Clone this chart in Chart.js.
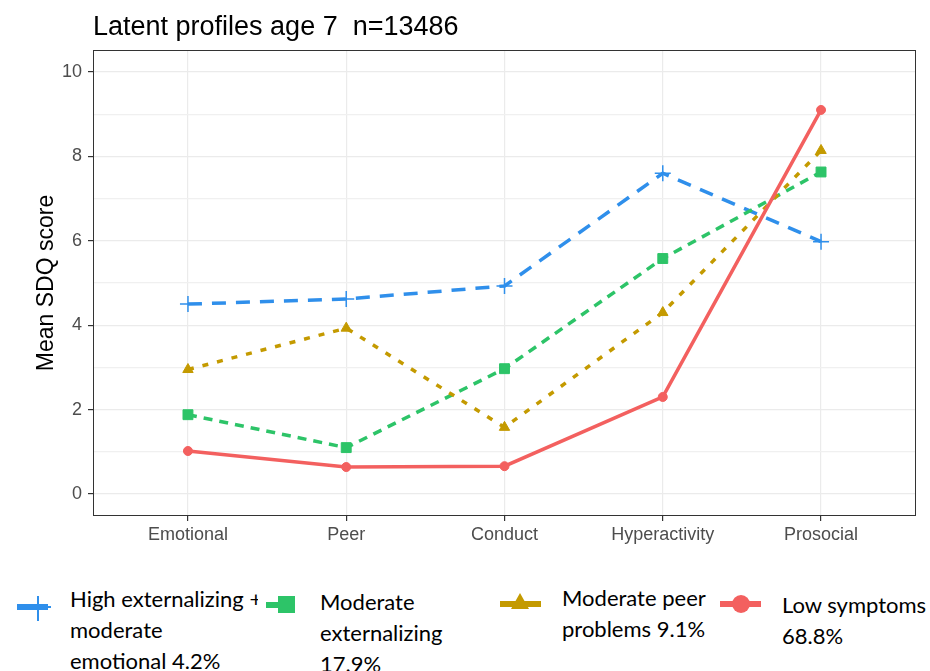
<!DOCTYPE html>
<html>
<head>
<meta charset="utf-8">
<script src="https://cdn.jsdelivr.net/npm/chart.js@4/dist/chart.umd.min.js"></script>
<style>
  body { margin: 0; background: #fff; width: 930px; height: 671px; overflow: hidden; position: relative; }
  #wrap { position: absolute; left: 0; top: 0; width: 930px; height: 560px; }
  #title { position: absolute; left: 93px; top: 11px; font: 27px "Liberation Sans", Arial, sans-serif; color: #000; }
  .leg { position: absolute; font: 22px Lato, "Liberation Sans", sans-serif; line-height: 31px; color: #000; }
  .bar { position: absolute; }
</style>
</head>
<body>
<div id="wrap"><canvas id="chart" width="930" height="560"></canvas></div>
<div id="title">Latent profiles age 7&nbsp; n=13486</div>
<div id="legend"></div>
<script>
// data
var categories = ['Emotional', 'Peer', 'Conduct', 'Hyperactivity', 'Prosocial'];
var highExt  = [4.50, 4.62, 4.93, 7.60, 5.98];
var modExt   = [1.88, 1.10, 2.97, 5.58, 7.63];
var modPeer  = [2.95, 3.93, 1.58, 4.30, 8.14];
var lowSymp  = [1.02, 0.64, 0.66, 2.30, 9.10];
var yTicks = [0, 2, 4, 6, 8, 10];

var seriesNames = [
  ['High externalizing +', 'moderate', 'emotional 4.2%'],
  ['Moderate', 'externalizing', '17.9%'],
  ['Moderate peer', 'problems 9.1%'],
  ['Low symptoms', '68.8%']
];
var colors = ['#2F8FEB', '#2DC468', '#C49A00', '#F3605F'];

function pts(arr) {
  return arr.map(function(v, i) { return { x: i, y: v }; });
}

var panelBorder = {
  id: 'panelBorder',
  afterDraw: function(chart) {
    var a = chart.chartArea, c = chart.ctx;
    c.save();
    c.strokeStyle = '#333';
    c.lineWidth = 1;
    c.strokeRect(a.left + 0.5, a.top + 0.5, a.right - a.left - 1, a.bottom - a.top - 1);
    c.restore();
  }
};

var tickFont = { family: '"Liberation Sans", Arial, sans-serif', size: 18 };

var ctx = document.getElementById('chart').getContext('2d');
var chart = new Chart(ctx, {
  type: 'line',
  data: {
    datasets: [
      { label: seriesNames[0].join(' '), data: pts(highExt), borderColor: colors[0], backgroundColor: colors[0],
        borderDash: [14, 10], borderWidth: 3.5, pointStyle: 'cross', pointRadius: 8, pointBorderWidth: 1.5, order: 4 },
      { label: seriesNames[1].join(' '), data: pts(modExt), borderColor: colors[1], backgroundColor: colors[1],
        borderDash: [9, 7], borderWidth: 3.5, pointStyle: 'rect', pointRadius: 7, pointBorderWidth: 1, order: 3 },
      { label: seriesNames[2].join(' '), data: pts(modPeer), borderColor: colors[2], backgroundColor: colors[2],
        borderDash: [6, 9], borderWidth: 3.5, pointStyle: 'triangle', pointRadius: 6, pointBorderWidth: 1, order: 2 },
      { label: seriesNames[3].join(' '), data: pts(lowSymp), borderColor: colors[3], backgroundColor: colors[3],
        borderWidth: 3.5, pointStyle: 'circle', pointRadius: 4.5, pointBorderWidth: 1, order: 1 }
    ]
  },
  options: {
    responsive: false,
    animation: false,
    layout: { padding: { left: 0, top: 50, right: 14, bottom: 0 } },
    plugins: { legend: { display: false }, tooltip: { enabled: false } },
    scales: {
      x: {
        type: 'linear',
        min: -0.6, max: 4.6,
        afterFit: function(s) { s.height = 44; },
        ticks: {
          stepSize: 1, includeBounds: false, autoSkip: false, maxRotation: 0,
          color: '#4D4D4D', font: tickFont, padding: 3,
          callback: function(v) { return categories[v]; }
        },
        grid: { color: '#EBEBEB', lineWidth: 1.2, tickLength: 5, tickColor: '#333' },
        border: { display: false }
      },
      y: {
        min: -0.52, max: 10.52,
        afterFit: function(s) { s.width = 93; },
        ticks: {
          stepSize: 1, includeBounds: false, color: '#4D4D4D', font: tickFont, padding: 6,
          callback: function(v) { return yTicks.indexOf(v) >= 0 ? String(v) : ''; }
        },
        grid: {
          color: function(c) { return yTicks.indexOf(c.tick.value) >= 0 ? '#EBEBEB' : '#F0F0F0'; },
          lineWidth: 1.2,
          tickLength: 5,
          tickColor: function(c) { return yTicks.indexOf(c.tick.value) >= 0 ? '#333' : 'rgba(0,0,0,0)'; }
        },
        border: { display: false },
        title: {
          display: true, text: 'Mean SDQ score', color: '#000',
          font: { family: '"Liberation Sans", Arial, sans-serif', size: 23 },
          padding: { top: 33, bottom: 0 }
        }
      }
    }
  },
  plugins: [panelBorder]
});

// legend (HTML)
var legendPos = [
  { tx: 70, ty: 583, mx: 17, my: 607 },
  { tx: 320, ty: 586, mx: 266, my: 605 },
  { tx: 562, ty: 582, mx: 500, my: 604 },
  { tx: 782, ty: 589, mx: 720, my: 604 }
];
var shapes = ['cross', 'rect', 'triangle', 'circle'];
var leg = document.getElementById('legend');
legendPos.forEach(function(p, i) {
  var col = colors[i];
  var t = document.createElement('div');
  t.className = 'leg';
  t.style.left = p.tx + 'px';
  t.style.top = p.ty + 'px';
  t.innerHTML = seriesNames[i].join('<br>');
  leg.appendChild(t);
  var len = i === 1 ? 18 : 41;
  var bar = document.createElement('div');
  bar.className = 'bar';
  bar.style.cssText = 'left:' + p.mx + 'px;top:' + (p.my - 3) + 'px;width:' + len + 'px;height:6px;background:' + col;
  leg.appendChild(bar);
  var s = document.createElement('div');
  s.className = 'bar';
  if (shapes[i] === 'cross') {
    bar.style.width = '31px';
    s.style.cssText = 'left:' + (p.mx + 20) + 'px;top:' + (p.my - 11) + 'px;width:2px;height:25px;background:' + col;
    var h = document.createElement('div');
    h.className = 'bar';
    h.style.cssText = 'left:' + (p.mx + 9) + 'px;top:' + (p.my - 1) + 'px;width:25px;height:2px;background:' + col;
    leg.appendChild(h);
  } else if (shapes[i] === 'rect') {
    // white backing clips the end of the neighbouring label, as in the original
    var w = document.createElement('div');
    w.className = 'bar';
    w.style.cssText = 'left:' + (p.mx - 8) + 'px;top:' + (p.my - 14) + 'px;width:8px;height:30px;background:#fff';
    leg.appendChild(w);
    s.style.cssText = 'left:' + (p.mx + 12) + 'px;top:' + (p.my - 9) + 'px;width:17px;height:17px;background:' + col;
  } else if (shapes[i] === 'triangle') {
    s.style.cssText = 'left:' + (p.mx + 11) + 'px;top:' + (p.my - 11) + 'px;width:0;height:0;border-left:9px solid transparent;border-right:9px solid transparent;border-bottom:16px solid ' + col;
  } else {
    s.style.cssText = 'left:' + (p.mx + 12) + 'px;top:' + (p.my - 9) + 'px;width:18px;height:18px;border-radius:50%;background:' + col;
  }
  leg.appendChild(s);
});
</script>
</body>
</html>
